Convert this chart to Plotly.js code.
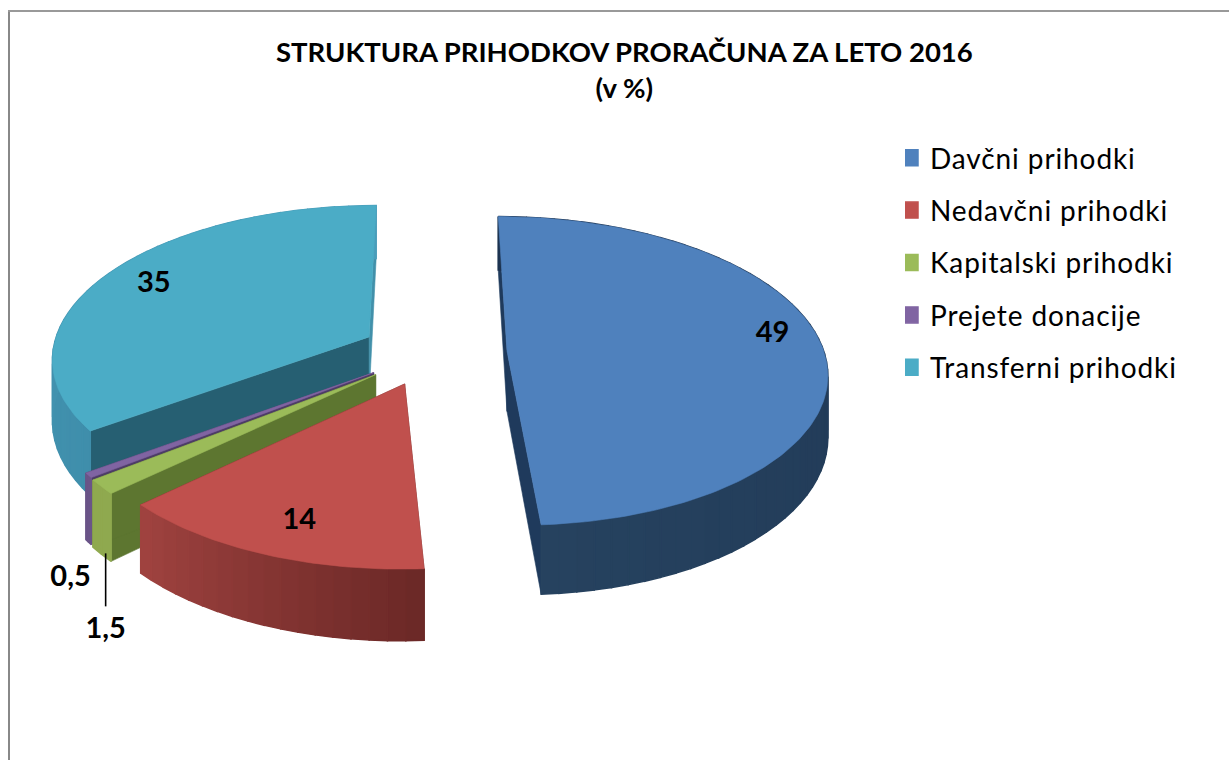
<!DOCTYPE html>
<html>
<head>
<meta charset="utf-8">
<script src="https://cdn.plot.ly/plotly-3.0.1.min.js"></script>
<style>html,body{margin:0;padding:0;background:#fff;overflow:hidden}
.legendtext{letter-spacing:0.9px}</style>
</head>
<body>
<div id="chart" style="width:1229px;height:760px"></div>
<script>
// ---- data ----
const categories = ['Davčni prihodki','Nedavčni prihodki','Kapitalski prihodki','Prejete donacije','Transferni prihodki'];
const values = [49, 14, 1.5, 0.5, 35];
const titleText = 'STRUKTURA PRIHODKOV PRORAČUNA ZA LETO 2016<br>(v %)';

// ---- styles ----
const topColors  = ['#4f81bd','#c0504d','#9bbb59','#8064a2','#4bacc6'];
const faceStart  = ['#1f3a5c','#6b2826','#5d7630','#4d3c66','#265f72'];
const faceEnd    = ['#1f3a5c','#6b2826','#5d7630','#4d3c66','#4290aa'];
const wallFrom   = ['#1d3350','#6b2826','#8fa94f','#6a5488','#3f8eab'];  // at slice start angle
const wallTo     = ['#26425f','#a04340','#8fa94f','#6a5488','#4a9dba'];  // at slice end angle
const pulls      = [0.24, 0.22, 0.225, 0.222, 0.222];
const drawOrder  = [4, 3, 2, 1, 0];

// ---- 3D pie projection (canvas px) ----
const cx = 431, cy = 352, rx = 317, ry = 152, depth = 60.5, persp = 0.13;

const total = values.reduce((a, b) => a + b, 0);
const starts = []; let acc = 0;
values.forEach(v => { starts.push(acc / total * 2 * Math.PI); acc += v; });
const ends = values.map((v, i) => starts[i] + v / total * 2 * Math.PI);
const mids = values.map((v, i) => (starts[i] + ends[i]) / 2);

function project(i, theta, r, z) {
  const X = pulls[i] * Math.sin(mids[i]) + r * Math.sin(theta);
  const V = -pulls[i] * Math.cos(mids[i]) - r * Math.cos(theta);
  const p = 1 / (1 - persp * V);
  return [cx + rx * X * p, cy + ry * V * p + depth * z * p];
}
function hex(c) { return [1, 3, 5].map(k => parseInt(c.substr(k, 2), 16)); }
function mix(a, b, t) {
  const A = hex(a), B = hex(b);
  return 'rgb(' + A.map((x, k) => Math.round(x + (B[k] - x) * t)).join(',') + ')';
}
function poly(pts, color, w) {
  const c = pts.concat([pts[0]]);
  return {x: c.map(q => q[0]), y: c.map(q => q[1]), mode: 'lines', fill: 'toself',
          fillcolor: color, line: {color: color, width: w},
          hoverinfo: 'skip', showlegend: false};
}

const traces = [];
drawOrder.forEach(i => {
  const a0 = starts[i], a1 = ends[i];
  // cut faces
  [[a0, faceStart[i]], [a1, faceEnd[i]]].forEach(([a, col]) => {
    traces.push(poly([project(i, a, 0, 0), project(i, a, 1, 0), project(i, a, 1, 1), project(i, a, 0, 1)], col, 0.6));
  });
  // outer wall, shaded in strips
  const strips = Math.max(2, Math.ceil((a1 - a0) / 0.05));
  for (let s = 0; s < strips; s++) {
    const b0 = a0 + (a1 - a0) * s / strips, b1 = a0 + (a1 - a0) * (s + 1) / strips;
    traces.push(poly([project(i, b0, 1, 0), project(i, b1, 1, 0), project(i, b1, 1, 1), project(i, b0, 1, 1)],
                     mix(wallFrom[i], wallTo[i], (s + 0.5) / strips), 1.5));
  }
  // top face
  const pts = [project(i, a0, 0, 0)];
  const n = Math.max(4, Math.ceil((a1 - a0) / 0.02));
  for (let s = 0; s <= n; s++) pts.push(project(i, a0 + (a1 - a0) * s / n, 1, 0));
  traces.push(poly(pts, topColors[i], 0.6));
});

// legend entries
categories.forEach((name, i) => {
  traces.push({x: [null], y: [null], mode: 'markers', name: name, legendgroup: name,
               marker: {symbol: 'square', size: 16, color: topColors[i], line: {width: 1.5, color: topColors[i]}},
               hoverinfo: 'skip'});
});

// data labels
const labelText = values.map(v => String(v).replace('.', ','));
const at = (i, f, r) => project(i, starts[i] + (ends[i] - starts[i]) * f, r, 0);
const a2 = project(2, mids[2], 1, 1);
const a3 = project(3, mids[3], 1, 1);
const lab = [at(0, 0.47, 0.86), at(1, 0.47, 0.82), [a2[0] + 4, a2[1] + 76], [a3[0] - 18, a3[1] + 37], at(4, 0.5, 0.82)];
traces.push({x: [a2[0] + 4, a2[0] + 4], y: [a2[1] - 1, a2[1] + 52], mode: 'lines', line: {color: '#000', width: 1.6},
             hoverinfo: 'skip', showlegend: false});
traces.push({x: lab.map(q => q[0]), y: lab.map(q => q[1]), mode: 'text', text: labelText,
             textposition: 'middle center', textfont: {family: 'Lato, sans-serif', size: 29, color: '#000', weight: 700},
             hoverinfo: 'skip', showlegend: false, cliponaxis: false});

const layout = {
  width: 1229, height: 760, margin: {l: 0, r: 0, t: 0, b: 0},
  paper_bgcolor: '#fff', plot_bgcolor: '#fff',
  xaxis: {range: [0, 1229], visible: false, fixedrange: true},
  yaxis: {range: [760, 0], visible: false, fixedrange: true},
  title: {text: titleText, x: 0.508, xanchor: 'center', y: 0.918, yanchor: 'top',
          font: {family: 'Lato, sans-serif', size: 27.5, color: '#000', weight: 700}},
  legend: {x: 905 / 1229, xanchor: 'left', y: 1 - 133 / 760, yanchor: 'top', bgcolor: 'rgba(0,0,0,0)',
           font: {family: 'Lato, sans-serif', size: 28, color: '#000'},
           tracegroupgap: 13, indentation: -15, itemclick: false, itemdoubleclick: false},
  shapes: [
    {type: 'line', xref: 'paper', yref: 'paper', x0: 9 / 1229, x1: 9 / 1229, y0: 0, y1: 1 - 10 / 760, line: {color: '#888', width: 2}},
    {type: 'line', xref: 'paper', yref: 'paper', x0: 8 / 1229, x1: 1, y0: 1 - 11 / 760, y1: 1 - 11 / 760, line: {color: '#999', width: 2}}
  ],
  showlegend: true
};
Plotly.newPlot('chart', traces, layout, {displayModeBar: false});
</script>
</body>
</html>
